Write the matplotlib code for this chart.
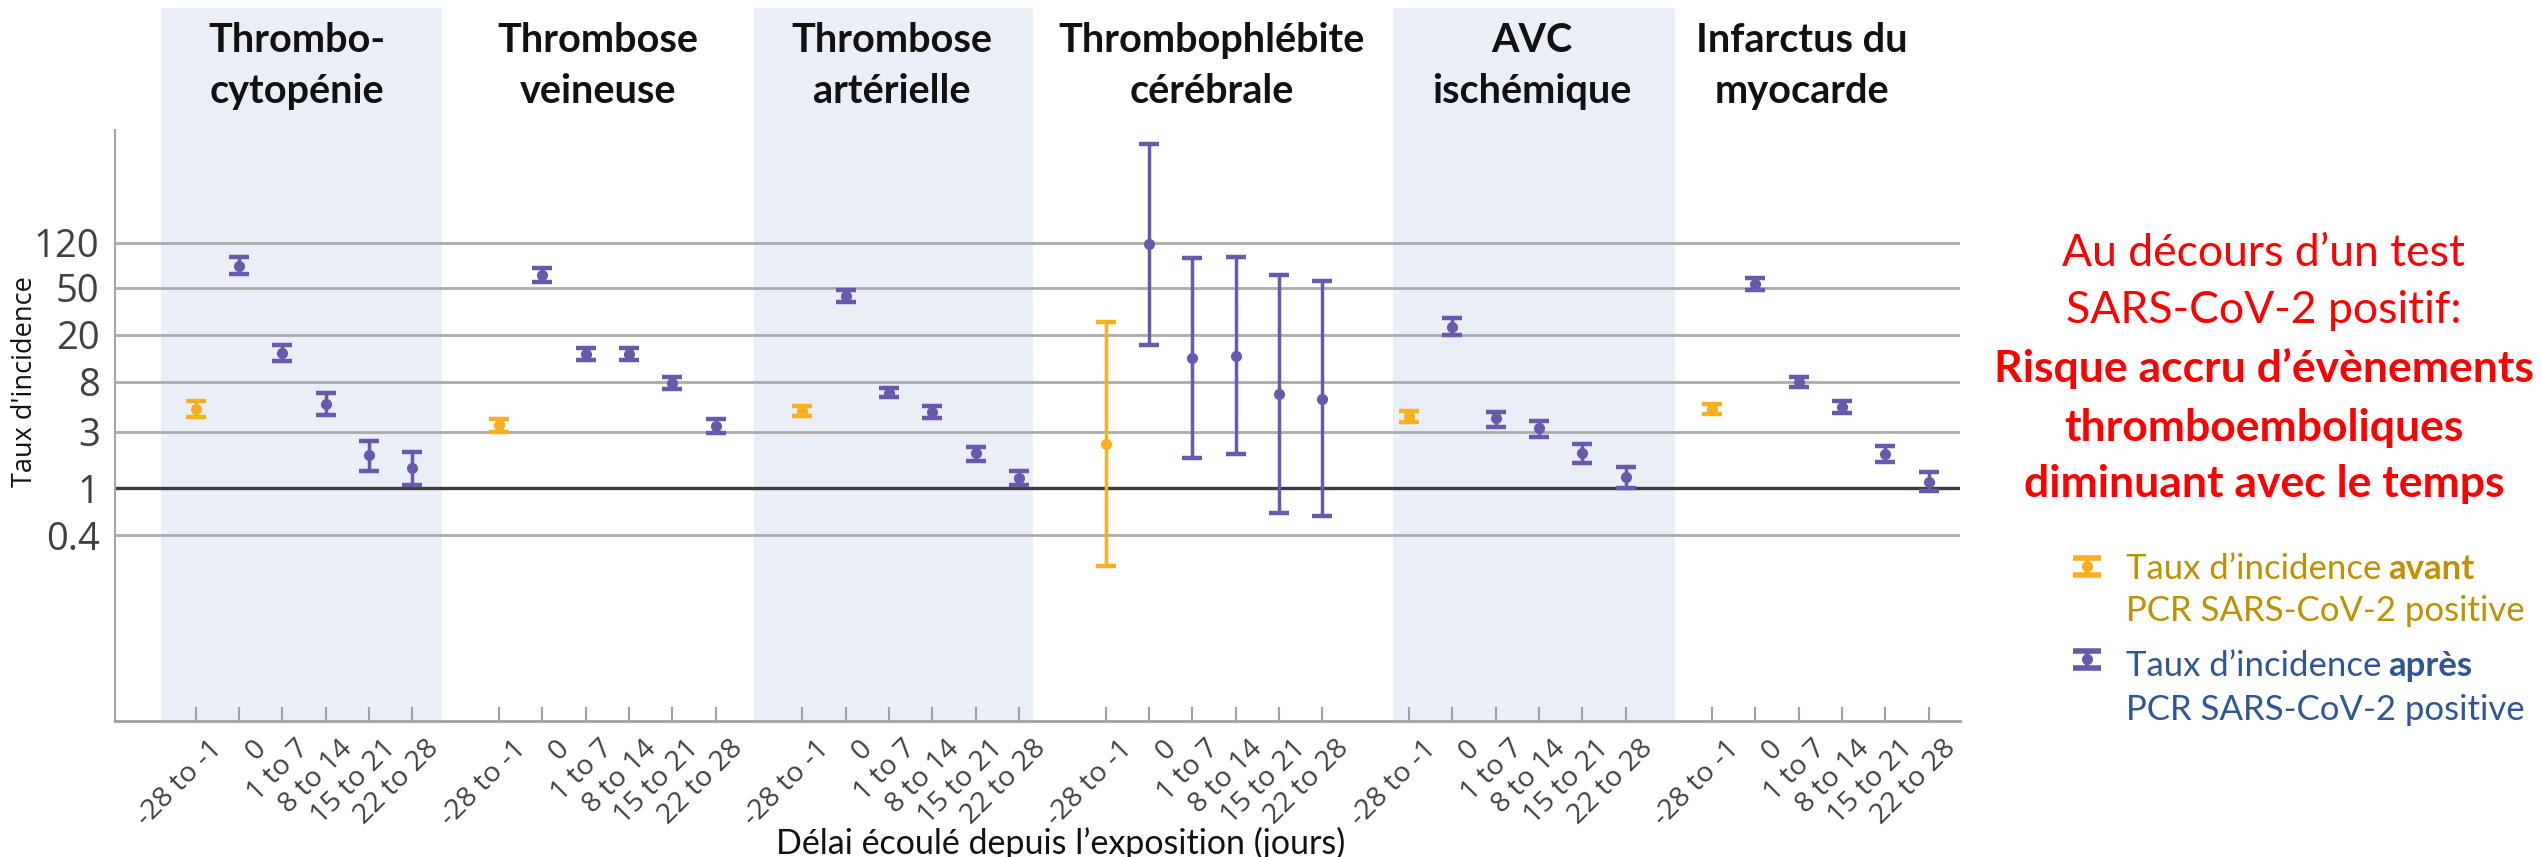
import numpy as np
import matplotlib
matplotlib.use('Agg')
import matplotlib.pyplot as plt
from matplotlib.transforms import blended_transform_factory, ScaledTranslation
from matplotlib.patches import Rectangle
from matplotlib.lines import Line2D
from matplotlib.ticker import NullLocator

# ---------------- data ----------------
periods = ['-28 to -1', '0', '1 to 7', '8 to 14', '15 to 21', '22 to 28']
outcomes = [['Thrombo-', 'cytopénie'], ['Thrombose', 'veineuse'],
            ['Thrombose', 'artérielle'], ['Thrombophlébite', 'cérébrale'],
            ['AVC', 'ischémique'], ['Infarctus du', 'myocarde']]

irr_thrombocytopenie = [4.67, 76.3, 14.1, 5.17, 1.91, 1.48]
lo_thrombocytopenie = [3.99, 64.9, 12.0, 4.18, 1.41, 1.07]
hi_thrombocytopenie = [5.52, 90.3, 16.3, 6.37, 2.53, 2.04]

irr_thrombose_veineuse = [3.44, 64.0, 13.7, 13.7, 7.75, 3.39]
lo_thrombose_veineuse = [3.01, 56.1, 12.2, 12.2, 6.89, 2.92]
hi_thrombose_veineuse = [3.88, 72.9, 15.3, 15.3, 8.71, 3.88]

irr_thrombose_arterielle = [4.54, 42.7, 6.45, 4.45, 1.98, 1.23]
lo_thrombose_arterielle = [4.12, 38.0, 5.90, 3.96, 1.71, 1.07]
hi_thrombose_arterielle = [4.98, 47.8, 7.03, 4.98, 2.25, 1.41]

irr_thrombophlebite = [2.37, 117.0, 12.8, 13.3, 6.29, 5.70]
lo_thrombophlebite = [0.22, 16.3, 1.79, 1.95, 0.614, 0.58]
hi_thrombophlebite = [25.7, 823.0, 89.7, 91.4, 64.0, 56.9]

irr_avc = [4.10, 23.4, 3.92, 3.22, 1.98, 1.25]
lo_avc = [3.62, 19.9, 3.32, 2.70, 1.65, 1.01]
hi_avc = [4.51, 27.5, 4.45, 3.74, 2.37, 1.52]

irr_infarctus = [4.67, 53.7, 8.00, 4.91, 1.95, 1.14]
lo_infarctus = [4.26, 47.8, 7.17, 4.32, 1.66, 0.95]
hi_infarctus = [5.14, 60.0, 8.81, 5.52, 2.28, 1.37]

ytick_values = [0.4, 1, 3, 8, 20, 50, 120]
ytick_labels = ['0.4', '1', '3', '8', '20', '50', '120']

series = [
    (irr_thrombocytopenie, lo_thrombocytopenie, hi_thrombocytopenie),
    (irr_thrombose_veineuse, lo_thrombose_veineuse, hi_thrombose_veineuse),
    (irr_thrombose_arterielle, lo_thrombose_arterielle, hi_thrombose_arterielle),
    (irr_thrombophlebite, lo_thrombophlebite, hi_thrombophlebite),
    (irr_avc, lo_avc, hi_avc),
    (irr_infarctus, lo_infarctus, hi_infarctus),
]

# ---------------- layout / style ----------------
W, H, DPI = 2542, 857, 100
ORANGE = '#FAAF1E'
PURPLE = '#6959AC'
SHADE = '#E9EEF7'
GROUP_STEP = 7
shade_spans = [(-0.80, 5.69), (12.88, 19.33), (27.64, 34.14)]
title_x = [2.34, 9.28, 16.07, 23.45, 30.84, 37.07]


def fx(px):
    return px / W


def fy(py):
    return 1 - py / H


fig = plt.figure(figsize=(W / DPI, H / DPI), dpi=DPI)
ax_left, ax_right, ax_top, ax_bot = 115, 1960, 130, 720.7
ax = fig.add_axes([fx(ax_left), fy(ax_bot), (ax_right - ax_left) / W, (ax_bot - ax_top) / H])
ax.set_facecolor('none')
ax.set_yscale('log')

# gridlines
for v in ytick_values:
    if v == 1:
        ax.axhline(v, color='#3C3C3C', lw=2.4, zorder=1)
    else:
        ax.axhline(v, color='#ABABAB', lw=2.0, zorder=1)

# error bars
xpos_all = []
for g, (irr, lo, hi) in enumerate(series):
    irr = np.asarray(irr)
    lo = np.asarray(lo)
    hi = np.asarray(hi)
    x = g * GROUP_STEP + np.arange(len(periods))
    xpos_all.extend(x)
    yerr = np.vstack([irr - lo, hi - irr])
    kw = dict(fmt='o', ms=7, elinewidth=2.5, capsize=7.2, capthick=3.2, zorder=3)
    ax.errorbar(x[:1], irr[:1], yerr=yerr[:, :1], color=ORANGE, **kw)
    ax.errorbar(x[1:], irr[1:], yerr=yerr[:, 1:], color=PURPLE, **kw)

ax.set_xlim(-1.862, 40.72)
ax.set_ylim(0.01076, 1081)

# ticks
ax.set_xticks(xpos_all)
ax.set_xticklabels(periods * len(series), rotation=45, ha='right', va='top',
                   rotation_mode='anchor', fontsize=20.5, color='#404040', family='Open Sans')
ax.tick_params(axis='x', direction='in', length=10, width=1.5, color='#A0A0A0', pad=10)
off = ScaledTranslation(13 / DPI, 0, fig.dpi_scale_trans)
for lab in ax.get_xticklabels():
    lab.set_transform(lab.get_transform() + off)

ax.set_yticks(ytick_values)
ax.set_yticklabels(ytick_labels, fontsize=27.5, color='#404040', family='Open Sans')
ax.yaxis.set_minor_locator(NullLocator())
ax.tick_params(axis='y', length=0, pad=11)

for s in ('top', 'right'):
    ax.spines[s].set_visible(False)
ax.spines['left'].set_color('#A6A6A6')
ax.spines['left'].set_linewidth(1.5)
ax.spines['bottom'].set_color('#A0A0A0')
ax.spines['bottom'].set_linewidth(2.0)

# shading and titles
trans = blended_transform_factory(ax.transData, fig.transFigure)
for a, b in shade_spans:
    r = Rectangle((a, fy(ax_bot)), b - a, fy(8) - fy(ax_bot),
                  facecolor=SHADE, edgecolor='none', zorder=-1)
    fig.add_artist(r)
    r.set_transform(trans)

for xt, lines in zip(title_x, outcomes):
    for line, base in zip(lines, [51.7, 103]):
        ax.text(xt, fy(base), line, transform=trans, ha='center', va='baseline',
                fontsize=28.5, fontweight='bold', family='Lato', color='#111111')

# axis labels
fig.text(fx(25), fy(381.5), "Taux d'incidence", rotation=90, ha='center', va='center',
         fontsize=19.5, family='Open Sans', color='#111111')
fig.text(fx(1061), fy(854), 'Délai écoulé depuis l’exposition (jours)', ha='center',
         va='baseline', fontsize=24.5, family='Lato', color='#111111')

# red annotation
red_lines = [('Au décours d’un test', 'normal', 266.5),
             ('SARS-CoV-2 positif:', 'normal', 323),
             ('Risque accru d’évènements', 'bold', 382),
             ('thromboemboliques', 'bold', 440.5),
             ('diminuant avec le temps', 'bold', 497)]
for txt, wt, base in red_lines:
    fig.text(fx(2264), fy(base), txt, ha='center', va='baseline', fontsize=32,
             fontweight=wt, family='Lato', color='#FF0000')


# legend
def key(cx, cy, color):
    hw, hh = 14, 8.5
    fig.add_artist(Line2D([fx(cx), fx(cx)], [fy(cy - hh), fy(cy + hh)], color=color, lw=3))
    for yy in (cy - hh, cy + hh):
        fig.add_artist(Line2D([fx(cx - hw), fx(cx + hw)], [fy(yy), fy(yy)], color=color,
                              lw=4, solid_capstyle='butt'))
    fig.add_artist(Line2D([fx(cx)], [fy(cy)], marker='o', ms=7, color=color, lw=0))


key(2087, 566, ORANGE)
key(2087, 659, PURPLE)

legend_items = [('avant', '#BF9000', 578.7, 621.2), ('après', '#2F5597', 675.5, 719.5)]
for word, col, b1, b2 in legend_items:
    t1 = fig.text(fx(2125.5), fy(b1), 'Taux d’incidence', ha='left', va='baseline',
                  fontsize=25, family='Lato', color=col)
    ax.annotate(word, xy=(1, 0), xycoords=t1, xytext=(7, 0), textcoords='offset pixels',
                ha='left', va='bottom', fontsize=25, fontweight='bold', family='Lato', color=col)
    fig.text(fx(2125.5), fy(b2), 'PCR SARS-CoV-2 positive', ha='left', va='baseline',
             fontsize=25, family='Lato', color=col)

fig.savefig('out.png', dpi=DPI)
